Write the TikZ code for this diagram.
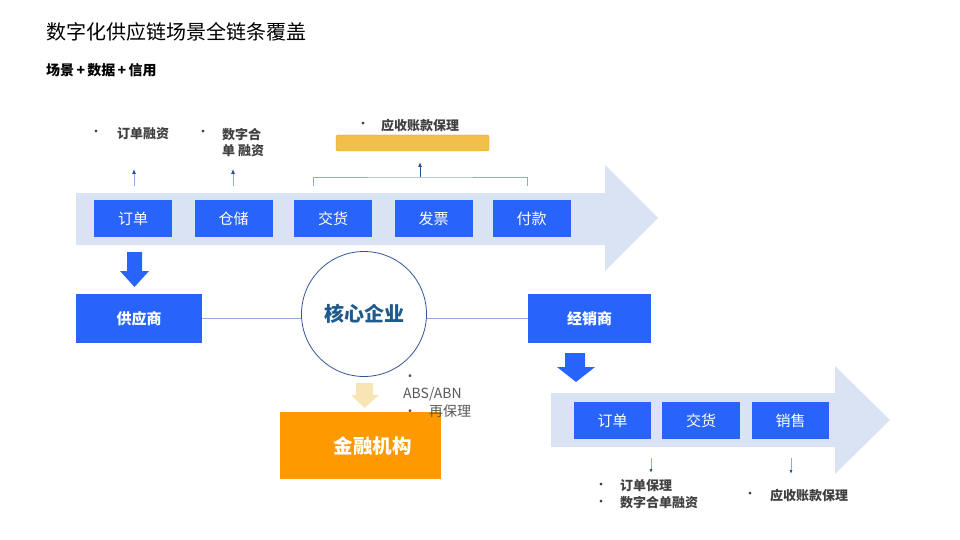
\documentclass[tikz,border=0pt]{standalone}
\usepackage{fontspec}
\setmainfont{Noto Sans CJK SC}
\usetikzlibrary{arrows.meta,backgrounds}
\definecolor{lightband}{RGB}{218,227,243}
\definecolor{bluebox}{RGB}{40,100,250}
\definecolor{circleline}{RGB}{47,85,151}
\definecolor{coretext}{RGB}{30,90,140}
\definecolor{linkline}{RGB}{143,170,220}
\definecolor{tipblue}{RGB}{40,80,140}
\definecolor{yellowbar}{RGB}{242,192,72}
\definecolor{yellowedge}{RGB}{214,160,40}
\definecolor{paleyellow}{RGB}{248,229,180}
\definecolor{orangebox}{RGB}{255,153,0}
\definecolor{labelgray}{RGB}{64,64,64}
\definecolor{notegray}{RGB}{89,89,89}
\tikzset{
  stepbox/.style={fill=bluebox, text=white, minimum width=78pt, minimum height=37pt, inner sep=0pt, font=\fontsize{15}{15}\selectfont},
  partybox/.style={fill=bluebox, text=white, inner sep=0pt, font=\fontsize{15}{15}\selectfont\bfseries},
  uparrow/.style={draw=linkline, line width=0.8pt, -{Latex[length=5pt,width=4pt,color=tipblue]}},
  link/.style={draw=linkline, line width=0.8pt},
  finlabel/.style={anchor=west, inner sep=0pt, text=labelgray, font=\fontsize{13}{15}\selectfont\bfseries},
  dotlabel/.style={anchor=center, inner sep=0pt, text=labelgray, font=\fontsize{13}{13}\selectfont},
}
\begin{document}
\begin{tikzpicture}[x=1pt,y=-1pt]
\useasboundingbox (0,0) rectangle (960,540);
% title
\node[anchor=west, inner sep=0pt, font=\fontsize{20}{20}\selectfont] (title) at (46,32) {数字化供应链场景全链条覆盖};
\node[anchor=west, inner sep=0pt, font=\fontsize{14}{14}\selectfont\bfseries] (subtitle) at (46,70) {场景\,+\,数据\,+\,信用};

% top band arrow
\fill[lightband] (76,193) -- (605,193) -- (605,165) -- (658,218) -- (605,271) -- (605,245) -- (76,245) -- cycle;
\node[stepbox] (o1) at (133,218.5) {订单};
\node[stepbox] (w1) at (233.5,218.5) {仓储};
\node[stepbox] (d1) at (333,218.5) {交货};
\node[stepbox] (f1) at (433.5,218.5) {发票};
\node[stepbox] (p1) at (531.5,218.5) {付款};

% up arrows
\coordinate (o1s) at (134,186);
\coordinate (o1e) at (134,169);
\coordinate (w1s) at (233,186);
\coordinate (w1e) at (233,169);
\draw[uparrow] (o1s) -- (o1e);
\draw[uparrow] (w1s) -- (w1e);
\coordinate (bl) at (313,186);
\coordinate (br) at (527,186);
\coordinate (bm) at (420,177);
\coordinate (bt) at (420,162);
\draw[link] (bl) |- (bm) -| (br);
\draw[uparrow, draw=tipblue] (bm) -- (bt);
\node[draw=yellowedge, fill=yellowbar, rounded corners=2pt, minimum width=153pt, minimum height=16pt, inner sep=0pt] (bar) at (412.5,143) {};

% labels top
\node[dotlabel] (b1) at (96,133) {•};
\node[finlabel] (l1) at (117,134) {订单融资};
\node[dotlabel] (b2) at (203,133) {•};
\node[finlabel, align=left, font=\fontsize{13}{16.5}\selectfont\bfseries] (l2) at (222,142.5) {数字合\\单 融资};
\node[dotlabel] (b3) at (363,125) {•};
\node[finlabel] (l3) at (381,126) {应收账款保理};

% blue down arrow under 订单
\fill[bluebox] (127,252) -- (142,252) -- (142,271) -- (149,271) -- (134.5,287) -- (120,271) -- (127,271) -- cycle;

% parties
\node[partybox, minimum width=126pt, minimum height=49pt] (sup) at (139,318.5) {供应商};
\node[partybox, minimum width=123pt, minimum height=49pt] (dist) at (589.5,318.5) {经销商};
\node[circle, draw=circleline, line width=0.8pt, fill=white, minimum size=125pt, inner sep=0pt, text=coretext, font=\fontsize{20}{20}\selectfont\bfseries] (core) at (364,314) {核心企业};
\begin{pgfonlayer}{background}
\draw[link] (sup.east) -- (sup.east -| core.center);
\draw[link] (dist.west) -- (dist.west -| core.center);
\end{pgfonlayer}

% pale yellow arrow
\fill[paleyellow] (356,383) -- (373,383) -- (373,395) -- (379,395) -- (364.5,408) -- (351,395) -- (356,395) -- cycle;
\node[fill=orangebox, text=white, minimum width=161pt, minimum height=67pt, inner sep=0pt, font=\fontsize{19.5}{20}\selectfont\bfseries] (fin) at (360.5,445.5) {\hspace*{24pt}金融机构};
\node[anchor=north west, inner sep=0pt, align=left, text=notegray, font=\fontsize{14}{17.5}\selectfont] (notes) at (403,374) {•\\ABS/ABN\\•\hspace{12pt}再保理};

% blue down arrow under 经销商
\fill[bluebox] (565,353) -- (585,353) -- (585,367) -- (595,367) -- (576,382) -- (557,367) -- (565,367) -- cycle;

% lower band arrow
\fill[lightband] (551,393) -- (835,393) -- (835,366) -- (890,420) -- (835,474) -- (835,447) -- (551,447) -- cycle;
\node[stepbox, minimum width=77pt] (o2) at (612.5,420.5) {订单};
\node[stepbox] (d2) at (701,420.5) {交货};
\node[stepbox, minimum width=77pt] (s2) at (790.5,420.5) {销售};

\coordinate (a1s) at (651,458);
\coordinate (a1e) at (651,473);
\coordinate (a2s) at (791,458);
\coordinate (a2e) at (791,474);
\draw[uparrow, -{Latex[length=4pt,width=3pt,color=tipblue]}] (a1s) -- (a1e);
\draw[uparrow, -{Latex[length=4pt,width=3pt,color=tipblue]}] (a2s) -- (a2e);

\node[dotlabel] (b4) at (601,486) {•};
\node[finlabel] (l4) at (620,486) {订单保理};
\node[dotlabel] (b5) at (601,503) {•};
\node[finlabel] (l5) at (620,503) {数字合单融资};
\node[dotlabel] (b6) at (750,495) {•};
\node[finlabel] (l6) at (770,496) {应收账款保理};
\end{tikzpicture}
\end{document}
